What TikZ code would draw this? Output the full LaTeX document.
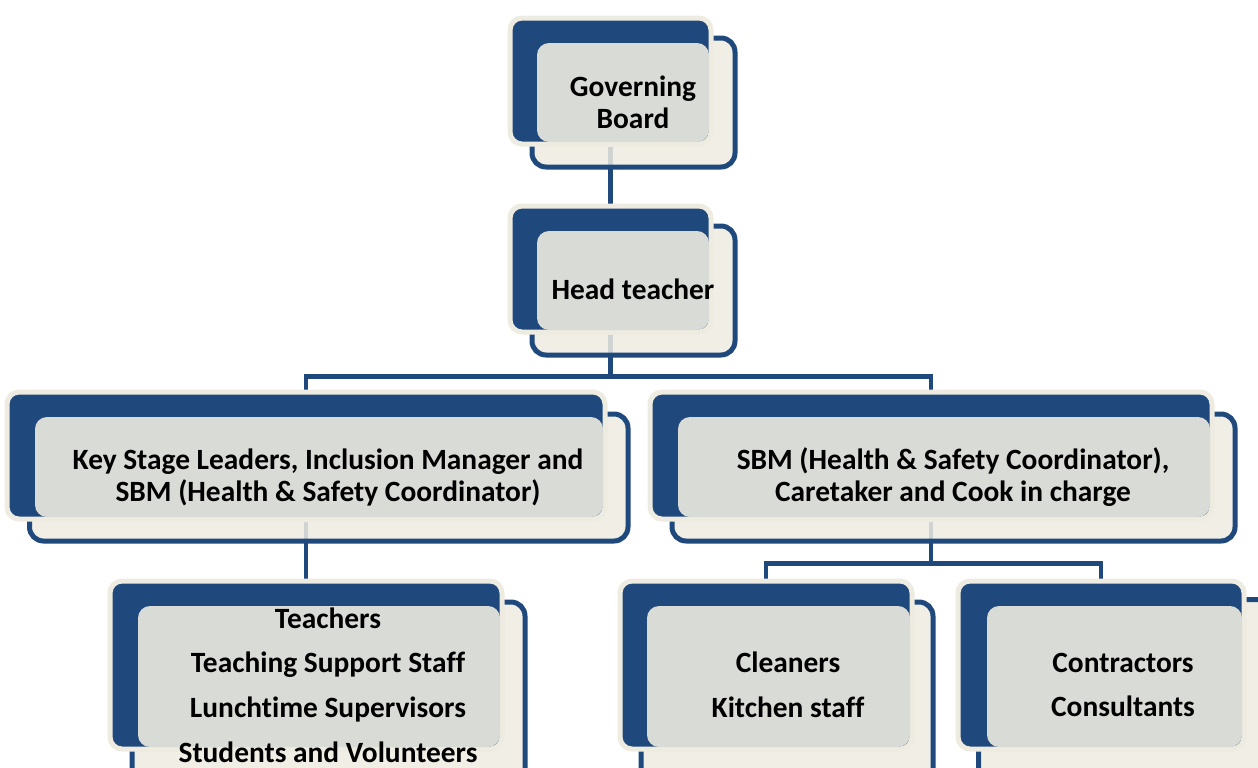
\documentclass[tikz,border=0pt]{standalone}
\usepackage{fontspec}
\setmainfont{Carlito}[Ligatures=NoCommon]
\usetikzlibrary{fit}
\pgfdeclarelayer{background}
\pgfsetlayers{background,main}
\definecolor{navy}{HTML}{1F497D}
\definecolor{cream}{HTML}{EEECE1}
\definecolor{greyov}{HTML}{D9DBD6}
\tikzset{
  backbox/.style={inner sep=0pt, rounded corners=6pt, fill=navy, draw=cream, line width=2.5pt},
  frontbox/.style={inner sep=0pt, rounded corners=7pt, fill=cream, fill opacity=0.85, draw=navy, draw opacity=1, line width=2.5pt},
  frontedge/.style={draw=navy, line width=2.5pt, rounded corners=7pt},
  greybox/.style={inner sep=0pt, rounded corners=6pt, fill=greyov, draw=none},
  txt/.style={align=center, inner sep=0pt, font=\fontsize{14.7}{16}\selectfont\bfseries},
  txtwide/.style={align=center, inner sep=0pt, font=\fontsize{14.7}{22.4}\selectfont\bfseries},
  conn/.style={draw=navy, line width=2.25pt}
}
\begin{document}
\begin{tikzpicture}[x=0.5pt,y=-0.5pt]
\useasboundingbox (0,0) rectangle (1258,767);
% Governing Board
\node[frontbox, fit={(532,38)(735,167)}] (gb) {};
\node[backbox, fit={(510,18)(711,144)}] (gbb) {};
\node[greybox, fit={(537,43)(709,142)}] (gbg) {};
\node[txt] (gbt) at (633,102) {Governing\\Board};
% Head teacher
\node[frontbox, fit={(532,226)(735,355)}] (ht) {};
\node[backbox, fit={(510,206)(711,332)}] (htb) {};
\node[greybox, fit={(537,231)(709,330)}] (htg) {};
\node[txt] (htt) at (633,289) {Head teacher};
% Key Stage
\node[frontbox, fit={(29.5,414)(628,541)}] (ks) {};
\node[backbox, fit={(7,392)(605,519)}] (ksb) {};
\node[greybox, fit={(35,417)(603,517)}] (ksg) {};
\node[txt] (kst) at (328,477) {Key Stage Leaders, Inclusion Manager and\\SBM (Health \& Safety Coordinator)};
% SBM
\node[frontbox, fit={(672,414)(1235,541)}] (sb) {};
\node[backbox, fit={(650,392)(1212,519)}] (sbb) {};
\node[greybox, fit={(678,417)(1210,517)}] (sbg) {};
\node[txt] (sbt) at (953,477) {SBM (Health \& Safety Coordinator),\\Caretaker and Cook in charge};
% Teachers
\node[frontbox, fit={(132,602)(525,800)}] (te) {};
\node[backbox, fit={(110,581)(502,749)}] (teb) {};
\node[greybox, fit={(138,606)(500,747)}] (teg) {};
\node[txtwide] (tet) at (328,685) {Teachers\\Teaching Support Staff\\Lunchtime Supervisors\\Students and Volunteers};
% Cleaners
\node[frontbox, fit={(641,602)(933,800)}] (cl) {};
\node[backbox, fit={(620,581)(912,749)}] (clb) {};
\node[greybox, fit={(647,606)(910,747)}] (clg) {};
\node[txtwide] (clt) at (788,685) {Cleaners\\Kitchen staff};
% Contractors
\node[frontbox, draw=none, fit={(981,602)(1330,800)}] (co) {};
\draw[frontedge] (co.south west) |- (co.north east);
\node[backbox, fit={(958,581)(1244,749)}] (cob) {};
\node[greybox, fit={(987,606)(1242,747)}] (cog) {};
\node[txtwide] (cot) at (1123,685) {Contractors\\Consultants};
% connectors
\begin{pgfonlayer}{background}
\fill[white] (0,0) rectangle (1258,767);
\draw[conn] (gbb.south) -- (htb.north);
\draw[conn] (htb.south) -- ++(0,42) -| (ksb.north);
\draw[conn] (htb.south) -- ++(0,42) -| (sbb.north);
\draw[conn] (ksb.south) -- (teb.north);
\draw[conn] (sbb.south) -- ++(0,42) -| (clb.north);
\draw[conn] (sbb.south) -- ++(0,42) -| (cob.north);
\end{pgfonlayer}
\end{tikzpicture}
\end{document}
